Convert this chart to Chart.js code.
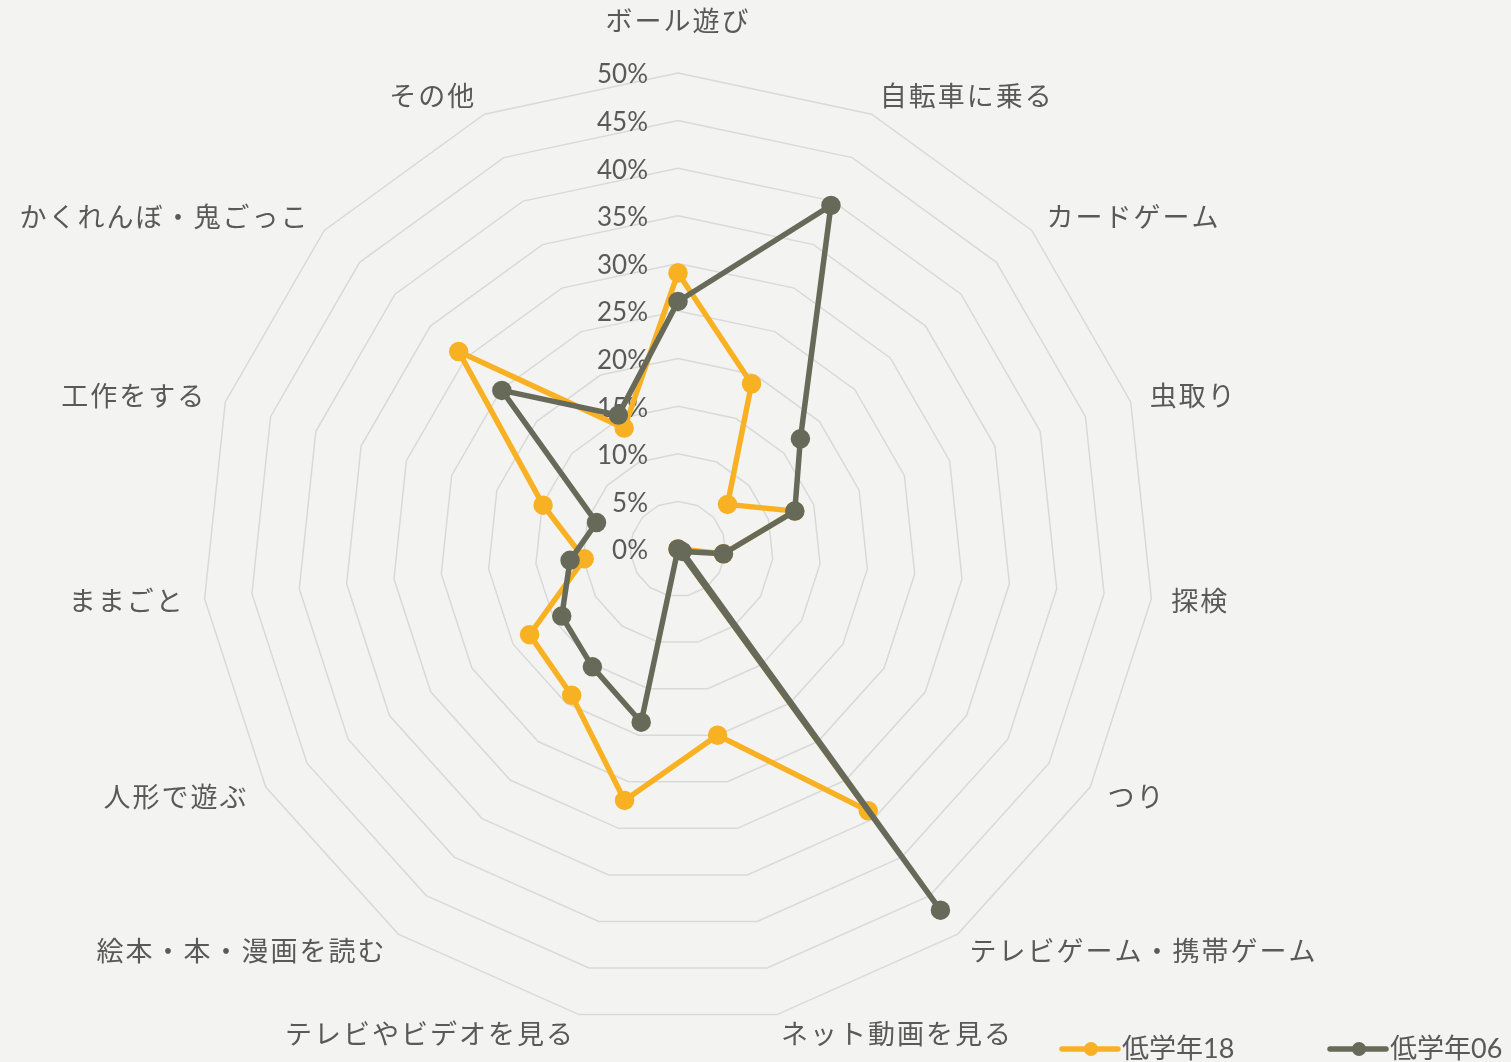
<!DOCTYPE html>
<html lang="ja">
<head>
<meta charset="utf-8">
<title>低学年の遊び</title>
<script src="https://cdn.jsdelivr.net/npm/chart.js@4"></script>
<style>
    html, body { margin: 0; padding: 0; background: #f3f3f1; }
    canvas { display: block; }
</style>
</head>
<body>
<canvas id="radar-chart" width="1511" height="1062"></canvas>
<script>
const categories = [
    'ボール遊び', '自転車に乗る', 'カードゲーム', '虫取り', '探検', 'つり',
    'テレビゲーム・携帯ゲーム', 'ネット動画を見る', 'テレビやビデオを見る',
    '絵本・本・漫画を読む', '人形で遊ぶ', 'ままごと', '工作をする',
    'かくれんぼ・鬼ごっこ', 'その他'
];
const seriesNames = ['低学年18', '低学年06'];
const values18 = [29.0, 19.0, 7.0, 12.9, 4.8, 0, 34.0, 20.0, 27.0, 19.0, 18.0, 9.9, 14.9, 31.0, 13.9];
const values06 = [26.0, 39.5, 17.3, 12.9, 4.8, 0.5, 46.9, 0, 18.6, 15.3, 14.1, 11.4, 9.0, 24.9, 15.4];
const tickMax = 50;
const tickStep = 5;

const yellow = '#f9b124';
const olive = '#676a58';
const textColor = '#595959';
const labelFont = '27px "Noto Sans CJK JP", sans-serif';
const tickFont = '26px Lato, "Noto Sans CJK JP", sans-serif';

// Excel style labels: ticks left of the axis, point labels centred on the spoke end
const excelLabels = {
    id: 'excelLabels',
    beforeDatasetsDraw(chart) {
        const scale = chart.scales.r;
        const ctx = chart.ctx;
        ctx.save();
        ctx.fillStyle = textColor;

        ctx.font = tickFont;
        ctx.textAlign = 'right';
        ctx.textBaseline = 'middle';
        scale.ticks.forEach(tick => {
            const y = scale.yCenter - scale.getDistanceFromCenterForValue(tick.value);
            ctx.fillText(tick.value + '%', scale.xCenter - 30, y + 2);
        });

        ctx.font = labelFont;
        ctx.letterSpacing = '2px';
        categories.forEach((label, i) => {
            const deg = Math.round(360 / categories.length * i);
            let pos;
            if (deg === 0) {
                pos = scale.getPointPosition(i, scale.drawingArea + 52);
                ctx.textAlign = 'center';
            } else {
                pos = scale.getPointPosition(i, scale.drawingArea + 20);
                ctx.textAlign = deg < 180 ? 'left' : 'right';
            }
            ctx.fillText(label, pos.x, pos.y);
        });
        ctx.restore();
    },
    afterDraw(chart) {
        const ctx = chart.ctx;
        const startX = [1062, 1330];
        const y = 1049;
        ctx.save();
        chart.data.datasets.forEach((ds, i) => {
            const x = startX[i];
            ctx.strokeStyle = ds.borderColor;
            ctx.lineWidth = 5.5;
            ctx.lineCap = 'round';
            ctx.beginPath();
            ctx.moveTo(x, y);
            ctx.lineTo(x + 56, y);
            ctx.stroke();
            ctx.fillStyle = ds.borderColor;
            ctx.beginPath();
            ctx.arc(x + 29, y, 7, 0, Math.PI * 2);
            ctx.fill();
            ctx.fillStyle = textColor;
            ctx.font = tickFont.replace('26px', '27px');
            ctx.textAlign = 'left';
            ctx.textBaseline = 'middle';
            ctx.fillText(ds.label, x + 60, y);
        });
        ctx.restore();
    }
};

const ctx = document.getElementById('radar-chart');
const radarChart = new Chart(ctx, {
    type: 'radar',
    data: {
        labels: categories,
        datasets: [{
            label: seriesNames[0],
            data: values18,
            borderColor: yellow,
            backgroundColor: yellow,
            pointBackgroundColor: yellow,
            pointBorderColor: yellow,
            borderWidth: 5.5,
            pointRadius: 7,
            fill: false,
            order: 2
        }, {
            label: seriesNames[1],
            data: values06,
            borderColor: olive,
            backgroundColor: olive,
            pointBackgroundColor: olive,
            pointBorderColor: olive,
            borderWidth: 5.5,
            pointRadius: 7,
            fill: false,
            order: 1
        }]
    },
    options: {
        responsive: false,
        animation: false,
        layout: {
            padding: { top: 73, bottom: 37, left: 202, right: 357 }
        },
        scales: {
            r: {
                min: 0,
                max: tickMax,
                ticks: { display: false, stepSize: tickStep },
                pointLabels: { display: false },
                angleLines: { display: false },
                grid: { color: '#d9d9d9', lineWidth: 1.5 }
            }
        },
        plugins: {
            legend: { display: false },
            tooltip: { enabled: false }
        },
        elements: {
            line: { tension: 0 }
        }
    },
    plugins: [excelLabels]
});
</script>
</body>
</html>
